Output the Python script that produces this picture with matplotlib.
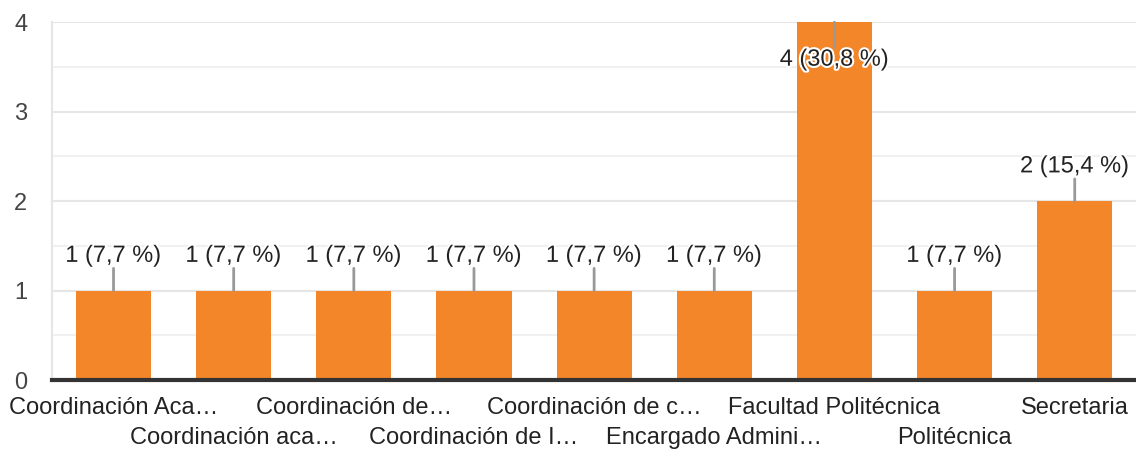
import matplotlib.pyplot as plt
import matplotlib.patheffects as pe

categories = ['Coordinación Aca…', 'Coordinación aca…', 'Coordinación de…',
              'Coordinación de I…', 'Coordinación de c…', 'Encargado Admini…',
              'Facultad Politécnica', 'Politécnica', 'Secretaria']
counts = [1, 1, 1, 1, 1, 1, 4, 1, 2]
percents = [7.7, 7.7, 7.7, 7.7, 7.7, 7.7, 30.8, 7.7, 15.4]

plt.rcParams['font.family'] = ['Liberation Sans', 'DejaVu Sans']

fig = plt.figure(figsize=(11.36, 4.53), dpi=100)
ax = fig.add_axes([0.046, 0.161, 0.954, 0.79])

x = list(range(len(categories)))
bars = ax.bar(x, counts, width=0.625, color='#F4862A', zorder=3)

ax.set_xlim(-0.51, len(categories) - 0.49)
ax.set_ylim(0, 4)

# grid: integer lines plus lighter half lines
ax.set_yticks([0, 1, 2, 3, 4])
ax.set_yticks([0.5, 1.5, 2.5, 3.5], minor=True)
ax.grid(axis='y', which='major', color='#e6e6e6', lw=1.5, zorder=0)
ax.grid(axis='y', which='minor', color='#f0f0f0', lw=1.5, zorder=0)
ax.tick_params(axis='y', which='both', length=0, labelsize=17, labelcolor='#444444', pad=18)

for s in ['top', 'right']:
    ax.spines[s].set_visible(False)
ax.spines['left'].set_color('#e6e6e6')
ax.spines['left'].set_linewidth(1.5)
ax.spines['bottom'].set_color('#333333')
ax.spines['bottom'].set_linewidth(3)
ax.spines['bottom'].set_zorder(5)

ax.set_xticks(x)
ax.set_xticklabels(categories)
ax.tick_params(axis='x', length=0, labelsize=17, labelcolor='#222222')
for i, tick in enumerate(ax.xaxis.get_major_ticks()):
    tick.set_pad(12 if i % 2 == 0 else 34)

# value labels with leader lines
for bar, c, p in zip(bars, counts, percents):
    cx = bar.get_x() + bar.get_width() / 2
    label = f"{c} ({str(p).replace('.', ',')} %)"
    if c == max(counts):
        line_end, text_off = -18, -27
    else:
        line_end, text_off = 16, 25
    ax.annotate('', xy=(cx, c), xytext=(0, line_end), textcoords='offset points',
                arrowprops=dict(arrowstyle='-', color='#999999', lw=2,
                                shrinkA=0, shrinkB=0), zorder=4)
    t = ax.annotate(label, xy=(cx, c), xytext=(0, text_off), textcoords='offset points',
                    ha='center', va='center', fontsize=17, color='#222222', zorder=6,
                    annotation_clip=False)
    t.set_path_effects([pe.withStroke(linewidth=3, foreground='white')])

fig.savefig('out.png', dpi=100)
